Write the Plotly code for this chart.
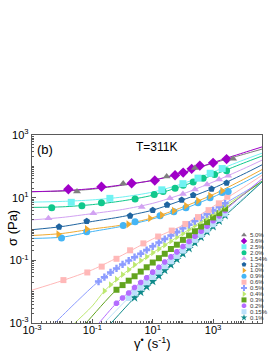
import plotly.graph_objects as go

# ---------------- data ----------------
LABELS = ["5.0%", "3.6%", "2.5%", "2.0%", "1.54%", "1.2%", "1.0%", "0.9%",
          "0.6%", "0.5%", "0.4%", "0.3%", "0.2%", "0.15%", "0.1%"]

# measured points (shear rate s^-1, stress Pa)
g_50 = [0.031, 1.05, 29, 250, 4600]
s_50 = [15.8, 28.2, 47, 89, 175]
g_36 = [0.016, 0.2, 2.0, 11.7, 55, 102, 195, 363, 1000, 2800]
s_36 = [18.6, 22.4, 28.8, 35.5, 52, 63, 83, 105, 129, 170]
g_25 = [0.02, 0.38, 20, 100, 316, 800, 2000]
s_25 = [7.1, 9.5, 17.8, 28, 42, 60, 85]
g_20 = [0.0045, 0.045, 0.2, 2.6, 11.2, 22, 55, 102, 219, 468, 1120, 2800]
s_20 = [4.8, 5.5, 6.9, 9.1, 12.6, 15.8, 20, 25, 31.6, 41.7, 55, 72]
g_154 = [0.0035, 0.107, 4.3, 37, 100, 250, 630, 1580, 3160]
s_154 = [2.2, 3.16, 5.0, 9.5, 13.2, 18.2, 26.3, 38, 50]
g_12 = [0.0079, 0.065, 1.78, 10, 30, 91, 219, 890, 2800]
s_12 = [1.17, 1.78, 2.63, 4.0, 5.9, 8.5, 12, 19, 29.5]
g_10 = [0.0074, 0.065, 1.55, 8.1, 20, 50, 126, 316, 794, 2000]
s_10 = [0.68, 1.0, 1.41, 2.19, 2.8, 3.8, 5.5, 7.9, 11.5, 16.6]
g_09 = [0.0095, 0.065, 1.05, 2.6, 17.4, 50, 126, 316, 794, 2000, 3160]
s_09 = [0.52, 0.81, 1.29, 1.7, 2.63, 3.55, 4.8, 6.9, 10, 14.5, 15.8]
g_06 = [0.011, 0.068, 0.204, 0.63, 1.78, 4.9, 15.1, 42.7, 120, 316, 708, 1550, 2950]
s_06 = [0.0234, 0.041, 0.063, 0.112, 0.209, 0.347, 0.575, 0.89, 1.45, 2.4, 4.0, 6.6, 10.7]
g_05 = [0.16, 0.25, 0.4, 0.63, 1, 1.6, 2.5, 4, 6.3, 10, 16, 25, 40, 63, 100, 160, 250, 400, 630, 1000, 1600, 2500]
s_05 = [0.021, 0.029, 0.041, 0.055, 0.074, 0.098, 0.126, 0.162, 0.214, 0.28, 0.37, 0.48, 0.62, 0.79, 1.05, 1.35, 1.78, 2.3, 3.0, 3.9, 5.1, 6.6]
g_04 = [0.25, 0.4, 0.63, 1, 1.6, 2.5, 4, 6.3, 10, 16, 25, 40, 63, 100, 160, 250, 400, 630, 1000, 1600, 2500]
s_04 = [0.0105, 0.0166, 0.025, 0.035, 0.05, 0.072, 0.098, 0.129, 0.174, 0.23, 0.31, 0.41, 0.55, 0.72, 0.98, 1.29, 1.74, 2.3, 3.1, 4.1, 5.5]
g_03 = [0.63, 1, 1.6, 2.5, 4, 6.3, 10, 16, 25, 40, 63, 100, 160, 250, 400, 630, 1000, 1600, 2500]
s_03 = [0.0115, 0.0162, 0.0224, 0.031, 0.0437, 0.060, 0.085, 0.117, 0.162, 0.23, 0.316, 0.45, 0.62, 0.85, 1.2, 1.66, 2.34, 3.2, 4.5]
g_02 = [0.63, 1, 1.6, 2.5, 4, 6.3, 10, 16, 25, 40, 63, 100, 160, 250, 400, 630, 1000, 1600, 2500]
s_02 = [0.0043, 0.0063, 0.0091, 0.0135, 0.0195, 0.028, 0.042, 0.060, 0.089, 0.129, 0.186, 0.275, 0.40, 0.59, 0.85, 1.23, 1.82, 2.6, 3.9]
g_015 = [1.6, 2.5, 4, 6.3, 10, 16, 25, 40, 63, 100, 160, 250, 400, 630, 1000, 1600, 2500]
s_015 = [0.0063, 0.0093, 0.0135, 0.020, 0.0295, 0.0437, 0.065, 0.093, 0.138, 0.204, 0.30, 0.45, 0.65, 0.95, 1.41, 2.1, 3.1]
g_01 = [2.5, 4, 6.3, 10, 16, 25, 40, 63, 100, 160, 250, 400, 630, 1000, 1600, 2500]
s_01 = [0.0064, 0.0096, 0.0144, 0.0214, 0.032, 0.048, 0.072, 0.107, 0.162, 0.24, 0.36, 0.54, 0.81, 1.2, 1.78, 2.7]

# fitted curves
FIT_X = [0.001, 0.01, 0.1, 1, 10, 100, 1000, 10000, 42000]
f_50 = [15.5, 16.2, 18.6, 25, 36, 63, 126, 240, 355]
f_36 = [15.5, 16.6, 19.5, 25.7, 35.5, 63, 132, 270, 417]
f_25 = [7.2, 7.6, 8.5, 10.5, 15.1, 28.2, 66, 158, 263]
f_20 = [4.9, 5.1, 6.0, 7.9, 12, 24, 52.5, 126, 214]
f_154 = [1.95, 2.34, 3.1, 4.2, 6.6, 13.2, 31.6, 83, 158]
f_12 = [0.95, 1.2, 1.74, 2.5, 4.0, 8.5, 20, 56, 112]
f_10 = [0.62, 0.72, 1.0, 1.35, 2.3, 5.0, 12.6, 38, 79]
f_09 = [0.5, 0.55, 0.83, 1.23, 2.1, 4.3, 10.5, 30, 63]
f_06 = [0.0112, 0.0224, 0.05, 0.148, 0.48, 1.32, 5.2, 21, 52]
fx_05 = [0.00316, 0.00575, 0.0316, 0.158, 1, 10, 100, 1000, 10000, 42000]
f_05 = [0.00056, 0.001, 0.005, 0.021, 0.074, 0.28, 1.05, 3.9, 14.5, 33]
fx_04 = [0.01, 0.0263, 0.1, 0.25, 1, 10, 100, 1000, 10000, 42000]
f_04 = [0.0004, 0.001, 0.0035, 0.0105, 0.035, 0.174, 0.72, 3.1, 13.2, 32]
fx_03 = [0.0316, 0.0617, 0.63, 2.5, 10, 100, 1000, 10000, 42000]
f_03 = [0.0005, 0.001, 0.0115, 0.031, 0.085, 0.45, 2.34, 12.3, 34]
fx_02 = [0.1, 0.166, 0.63, 2.5, 10, 100, 1000, 10000, 42000]
f_02 = [0.00058, 0.001, 0.0043, 0.0135, 0.042, 0.275, 1.82, 12.6, 40]
fx_015 = [0.158, 0.245, 1.58, 10, 100, 1000, 10000, 42000]
f_015 = [0.00065, 0.001, 0.0063, 0.0295, 0.204, 1.41, 9.8, 32]
fx_01 = [0.25, 0.417, 2.5, 10, 100, 1000, 10000, 42000]
f_01 = [0.00063, 0.001, 0.0064, 0.0214, 0.162, 1.2, 8.9, 32]

TICK_VALS = [1e-3, 1e-1, 10, 1000]
TICK_TEXT = ["10<sup>-3</sup>", "10<sup>-1</sup>", "10<sup>1</sup>", "10<sup>3</sup>"]

# ---------------- styles ----------------
COLORS = ["#7f7f7f", "#a000c8", "#70f2f2", "#10c88c", "#d2a2f2", "#1f64a0", "#f0aa30",
          "#45b5f5", "#ffb8b8", "#8c9cff", "#bde870", "#62a41e", "#b46cff", "#bce0fa", "#0f8a8a"]
SYMBOLS = ["triangle-up", "diamond", "square", "circle", "triangle-up", "pentagon",
           "triangle-right", "circle", "square", "cross", "triangle-right", "square",
           "octagon", "square", "star"]
SIZES = [7, 8, 7, 7, 7, 7, 7, 7, 6, 6, 6, 6, 6, 6, 7]

points = [(g_50, s_50), (g_36, s_36), (g_25, s_25), (g_20, s_20), (g_154, s_154),
          (g_12, s_12), (g_10, s_10), (g_09, s_09), (g_06, s_06), (g_05, s_05),
          (g_04, s_04), (g_03, s_03), (g_02, s_02), (g_015, s_015), (g_01, s_01)]
fits = [(FIT_X, f_50), (FIT_X, f_36), (FIT_X, f_25), (FIT_X, f_20), (FIT_X, f_154),
        (FIT_X, f_12), (FIT_X, f_10), (FIT_X, f_09), (FIT_X, f_06), (fx_05, f_05),
        (fx_04, f_04), (fx_03, f_03), (fx_02, f_02), (fx_015, f_015), (fx_01, f_01)]

fig = go.Figure()

# fit lines first (under markers)
for i in range(len(LABELS)):
    fx, fy = fits[i]
    fig.add_trace(go.Scatter(x=fx, y=fy, mode="lines",
                             line=dict(color=COLORS[i], width=1, shape="spline", smoothing=0.8),
                             hoverinfo="skip", showlegend=False))
# markers, drawn from lowest to highest series
for i in reversed(range(len(LABELS))):
    gx, sy = points[i]
    fig.add_trace(go.Scatter(x=gx, y=sy, mode="markers", name=LABELS[i],
                             marker=dict(symbol=SYMBOLS[i], color=COLORS[i], size=SIZES[i],
                                         line=dict(width=0)),
                             showlegend=False))

# compact legend in pixel coordinates on an overlay axis
L_X, L_Y0, L_STEP = 244, 235, 5.9
leg_y = [L_Y0 + k * L_STEP for k in range(len(LABELS))]
fig.add_trace(go.Scatter(x=[L_X] * len(LABELS), y=leg_y, mode="markers",
                         xaxis="x2", yaxis="y2", hoverinfo="skip", showlegend=False,
                         marker=dict(symbol=SYMBOLS, color=COLORS, size=5, line=dict(width=0))))
FONT = "Liberation Sans"
annotations = []
for k, lab in enumerate(LABELS):
    annotations.append(dict(x=L_X + 4, y=leg_y[k], xref="x2", yref="y2", text=lab,
                            showarrow=False, xanchor="left", yanchor="middle",
                            font=dict(size=6, color="#333333", family=FONT)))
annotations.append(dict(x=45, y=149, xref="x2", yref="y2", text="(b)", showarrow=False,
                        font=dict(size=13, color="black", family=FONT)))
annotations.append(dict(x=156, y=147, xref="x2", yref="y2", text="T=311K", showarrow=False,
                        font=dict(size=12, color="black", family=FONT)))
# axis titles
annotations.append(dict(x=(152 - 32) / 230, y=(323 - 343) / 188, xref="paper", yref="paper",
                        text="γ<sup>•</sup> (s<sup>-1</sup>)", showarrow=False,
                        xanchor="center", yanchor="middle",
                        font=dict(size=13, color="black", family=FONT)))
annotations.append(dict(x=(12 - 32) / 230, y=(323 - 228) / 188, xref="paper", yref="paper",
                        text="σ (Pa)", showarrow=False, textangle=-90,
                        xanchor="center", yanchor="middle",
                        font=dict(size=13, color="black", family=FONT)))

axis_common = dict(type="log", showgrid=False, zeroline=False, showline=True, mirror=True,
                   linecolor="#5a5a5a", linewidth=1.3, ticks="inside", ticklen=4,
                   tickcolor="#5a5a5a", tickmode="array", tickvals=TICK_VALS, ticktext=TICK_TEXT,
                   tickfont=dict(size=11, color="black", family=FONT),
                   minor=dict(ticks="inside", ticklen=2, tickcolor="#5a5a5a", dtick="D1"),
                   automargin=False)

fig.update_layout(
    width=268, height=352,
    margin=dict(l=32, r=6, t=135, b=29),
    paper_bgcolor="white", plot_bgcolor="white",
    xaxis=dict(range=[-3, 4.62], ticklabelstandoff=-3, **axis_common),
    yaxis=dict(range=[-3, 3], **axis_common),
    xaxis2=dict(overlaying="x", anchor="y2", range=[32, 262], visible=False, fixedrange=True),
    yaxis2=dict(overlaying="y", anchor="x2", range=[323, 135], visible=False, fixedrange=True),
    annotations=annotations,
    showlegend=False,
)

fig.write_html("out.html", config={"displayModeBar": False},
               post_script="document.body.style.margin='0px';")
